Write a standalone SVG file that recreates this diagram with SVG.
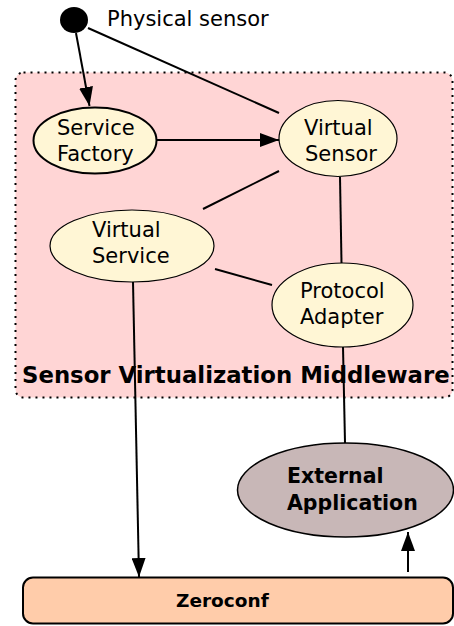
<svg xmlns="http://www.w3.org/2000/svg" width="454" height="626" viewBox="0 0 454 626">
  <style>
    .lbl { font-family: "DejaVu Sans", "Liberation Sans", sans-serif; font-size: 21px; fill: #000; }
    .bold { font-weight: bold; }
    .node { fill: #fff6d5; stroke: #000; stroke-width: 1.2; }
    .conn { stroke: #000; stroke-width: 2; fill: none; }
  </style>
  <defs>
    <marker id="arrow" markerWidth="19" markerHeight="14" refX="19" refY="7" orient="auto" markerUnits="userSpaceOnUse">
      <path d="M0,0 L19,7 L0,14 Z" fill="#000"/>
    </marker>
  </defs>

  <!-- middleware container -->
  <g id="middleware">
    <rect x="15.5" y="72.5" width="437" height="325" rx="8" fill="#ffd5d5" stroke="#000" stroke-width="2" stroke-dasharray="2,5"/>
    <text class="lbl bold" x="22" y="383" style="font-size:22.8px">Sensor Virtualization Middleware</text>
  </g>

  <!-- connectors -->
  <g id="connectors">
    <line class="conn" x1="76" y1="33" x2="89.5" y2="106" marker-end="url(#arrow)"/>
    <line class="conn" x1="88" y1="28" x2="279" y2="113"/>
    <line class="conn" x1="157" y1="140" x2="279" y2="140" marker-end="url(#arrow)"/>
    <line class="conn" x1="279" y1="171" x2="203" y2="209"/>
    <line class="conn" x1="340" y1="177" x2="341.5" y2="263"/>
    <line class="conn" x1="215" y1="269" x2="272" y2="285"/>
    <line class="conn" x1="133" y1="282" x2="139" y2="577" marker-end="url(#arrow)"/>
    <line class="conn" x1="343" y1="347" x2="345" y2="443"/>
    <line class="conn" x1="408" y1="572" x2="408" y2="532" marker-end="url(#arrow)"/>
  </g>

  <g id="physical-sensor">
    <ellipse cx="74" cy="20" rx="14" ry="13" fill="#000"/>
    <text class="lbl" x="107" y="26">Physical sensor</text>
  </g>

  <g id="service-factory">
    <ellipse cx="95" cy="140.5" rx="61.5" ry="33" class="node" style="stroke-width:2"/>
    <text class="lbl" x="57" y="135">Service</text>
    <text class="lbl" x="57" y="161">Factory</text>
  </g>

  <g id="virtual-sensor">
    <ellipse cx="338" cy="138.5" rx="59" ry="38" class="node"/>
    <text class="lbl" x="304" y="135">Virtual</text>
    <text class="lbl" x="305" y="161">Sensor</text>
  </g>

  <g id="virtual-service">
    <ellipse cx="132" cy="246" rx="82" ry="36" class="node"/>
    <text class="lbl" x="92" y="237">Virtual</text>
    <text class="lbl" x="92" y="263">Service</text>
  </g>

  <g id="protocol-adapter">
    <ellipse cx="342.5" cy="305" rx="70.5" ry="42" class="node"/>
    <text class="lbl" x="300" y="298">Protocol</text>
    <text class="lbl" x="300" y="324">Adapter</text>
  </g>

  <g id="external-application">
    <ellipse cx="345.5" cy="490" rx="108" ry="47" fill="#c8b7b7" stroke="#000" stroke-width="1.5"/>
    <text class="lbl bold" x="287" y="483" style="font-size:20.5px">External</text>
    <text class="lbl bold" x="287" y="510" style="font-size:20.5px">Application</text>
  </g>

  <g id="zeroconf">
    <rect x="23" y="577.5" width="430" height="46" rx="10" fill="#ffccaa" stroke="#000" stroke-width="2"/>
    <text class="lbl bold" x="176" y="607" style="font-size:18.5px">Zeroconf</text>
  </g>
</svg>
